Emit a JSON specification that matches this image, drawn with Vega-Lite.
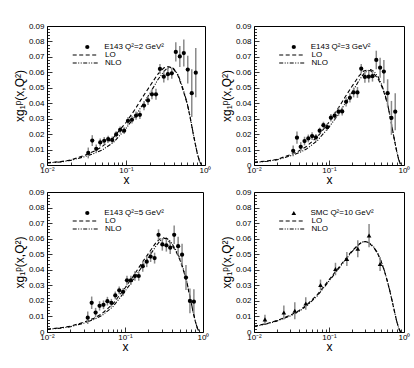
{
  "$schema": "https://vega.github.io/schema/vega-lite/v6.json",
  "background": "white",
  "padding": {"left": 12, "top": 21, "right": 0, "bottom": 0},
  "config": {
    "font": "Liberation Sans",
    "view": {"stroke": "black", "strokeWidth": 1},
    "axis": {"grid": false, "domain": false, "labelFontSize": 8, "labelColor": "black", "tickColor": "black", "titleColor": "black", "titleFontWeight": "normal", "labelFlush": false, "labelOverlap": false, "labelBound": false, "tickWidth": 0.8},
    "axisX": {"titleFontSize": 12, "titlePadding": -2, "labelPadding": 6},
    "axisY": {"titleFontSize": 12, "titlePadding": 2, "labelPadding": 8},
    "legend": {"orient": "none", "padding": 0, "offset": 0, "labelFontSize": 8, "labelColor": "black", "labelFont": "Liberation Sans", "title": null, "rowPadding": -3}
  },
  "datasets": {
    "c2": [
      {"x":0.01,"LO":0.0015,"NLO":0.0013},{"x":0.015,"LO":0.0022,"NLO":0.002},{"x":0.02,"LO":0.0032,"NLO":0.003},{"x":0.03,"LO":0.0063,"NLO":0.0054},{"x":0.04,"LO":0.009,"NLO":0.0076},{"x":0.05,"LO":0.012,"NLO":0.0097},{"x":0.07,"LO":0.018,"NLO":0.0148},{"x":0.1,"LO":0.0275,"NLO":0.0237},{"x":0.13,"LO":0.036,"NLO":0.0315},{"x":0.16,"LO":0.0435,"NLO":0.0385},{"x":0.2,"LO":0.051,"NLO":0.0463},{"x":0.25,"LO":0.0585,"NLO":0.0548},{"x":0.3,"LO":0.0628,"NLO":0.0605},{"x":0.33,"LO":0.0637,"NLO":0.0625},{"x":0.36,"LO":0.0634,"NLO":0.0632},{"x":0.4,"LO":0.062,"NLO":0.0625},{"x":0.45,"LO":0.0585,"NLO":0.059},{"x":0.5,"LO":0.052,"NLO":0.053},{"x":0.55,"LO":0.0455,"NLO":0.0462},{"x":0.6,"LO":0.039,"NLO":0.0393},{"x":0.65,"LO":0.0305,"NLO":0.0308},{"x":0.7,"LO":0.0218,"NLO":0.022},{"x":0.75,"LO":0.014,"NLO":0.0142},{"x":0.8,"LO":0.0073,"NLO":0.0074},{"x":0.85,"LO":0.0026,"NLO":0.0026},{"x":0.9,"LO":0,"NLO":0}
    ],
    "c3": [
      {"x":0.01,"LO":0.0018,"NLO":0.0016},{"x":0.015,"LO":0.0026,"NLO":0.0024},{"x":0.02,"LO":0.0036,"NLO":0.0033},{"x":0.03,"LO":0.0065,"NLO":0.0058},{"x":0.04,"LO":0.0092,"NLO":0.008},{"x":0.05,"LO":0.012,"NLO":0.0103},{"x":0.07,"LO":0.0182,"NLO":0.0158},{"x":0.1,"LO":0.0277,"NLO":0.0245},{"x":0.13,"LO":0.036,"NLO":0.032},{"x":0.16,"LO":0.0432,"NLO":0.039},{"x":0.2,"LO":0.0505,"NLO":0.0465},{"x":0.25,"LO":0.0575,"NLO":0.0545},{"x":0.29,"LO":0.0608,"NLO":0.059},{"x":0.32,"LO":0.0615,"NLO":0.0608},{"x":0.36,"LO":0.061,"NLO":0.0618},{"x":0.4,"LO":0.059,"NLO":0.0605},{"x":0.45,"LO":0.0558,"NLO":0.0572},{"x":0.5,"LO":0.0515,"NLO":0.0525},{"x":0.55,"LO":0.046,"NLO":0.0466},{"x":0.6,"LO":0.0398,"NLO":0.0402},{"x":0.65,"LO":0.0318,"NLO":0.032},{"x":0.7,"LO":0.0232,"NLO":0.0233},{"x":0.75,"LO":0.0155,"NLO":0.0156},{"x":0.8,"LO":0.0088,"NLO":0.0088},{"x":0.85,"LO":0.0035,"NLO":0.0035},{"x":0.9,"LO":0.0003,"NLO":0.0003}
    ],
    "c5": [
      {"x":0.01,"LO":0.0018,"NLO":0.0017},{"x":0.015,"LO":0.0027,"NLO":0.0025},{"x":0.02,"LO":0.0037,"NLO":0.0034},{"x":0.03,"LO":0.0064,"NLO":0.0058},{"x":0.04,"LO":0.0088,"NLO":0.0081},{"x":0.05,"LO":0.0116,"NLO":0.0104},{"x":0.07,"LO":0.018,"NLO":0.0163},{"x":0.1,"LO":0.0283,"NLO":0.0262},{"x":0.13,"LO":0.0365,"NLO":0.034},{"x":0.16,"LO":0.0435,"NLO":0.041},{"x":0.2,"LO":0.0505,"NLO":0.048},{"x":0.25,"LO":0.0575,"NLO":0.0553},{"x":0.28,"LO":0.0598,"NLO":0.0585},{"x":0.31,"LO":0.0605,"NLO":0.06},{"x":0.34,"LO":0.0598,"NLO":0.0603},{"x":0.37,"LO":0.058,"NLO":0.059},{"x":0.4,"LO":0.0558,"NLO":0.0568},{"x":0.45,"LO":0.0518,"NLO":0.0527},{"x":0.5,"LO":0.047,"NLO":0.0478},{"x":0.55,"LO":0.041,"NLO":0.0418},{"x":0.6,"LO":0.0348,"NLO":0.0355},{"x":0.65,"LO":0.027,"NLO":0.0276},{"x":0.7,"LO":0.0195,"NLO":0.0198},{"x":0.75,"LO":0.0125,"NLO":0.0127},{"x":0.8,"LO":0.0065,"NLO":0.0066},{"x":0.85,"LO":0.0022,"NLO":0.0022},{"x":0.9,"LO":0,"NLO":0}
    ],
    "c10": [
      {"x":0.01,"LO":0.0037,"NLO":0.0035},{"x":0.015,"LO":0.0055,"NLO":0.0053},{"x":0.02,"LO":0.0073,"NLO":0.007},{"x":0.03,"LO":0.0106,"NLO":0.0102},{"x":0.04,"LO":0.0138,"NLO":0.0133},{"x":0.05,"LO":0.0172,"NLO":0.0166},{"x":0.07,"LO":0.024,"NLO":0.0233},{"x":0.1,"LO":0.0335,"NLO":0.0327},{"x":0.13,"LO":0.0405,"NLO":0.0398},{"x":0.16,"LO":0.046,"NLO":0.0455},{"x":0.2,"LO":0.0518,"NLO":0.0513},{"x":0.25,"LO":0.0565,"NLO":0.0562},{"x":0.28,"LO":0.058,"NLO":0.0578},{"x":0.31,"LO":0.0582,"NLO":0.0582},{"x":0.34,"LO":0.0572,"NLO":0.0574},{"x":0.37,"LO":0.0557,"NLO":0.056},{"x":0.4,"LO":0.054,"NLO":0.0543},{"x":0.45,"LO":0.05,"NLO":0.0503},{"x":0.5,"LO":0.0448,"NLO":0.045},{"x":0.55,"LO":0.039,"NLO":0.0392},{"x":0.6,"LO":0.0325,"NLO":0.0327},{"x":0.65,"LO":0.026,"NLO":0.0262},{"x":0.7,"LO":0.0192,"NLO":0.0193},{"x":0.75,"LO":0.0127,"NLO":0.0128},{"x":0.8,"LO":0.0068,"NLO":0.0069},{"x":0.85,"LO":0.0024,"NLO":0.0024},{"x":0.9,"LO":0,"NLO":0}
    ],
    "p2": [
      {"x":0.0333,"y":0.0078,"err":0.0035},{"x":0.0374,"y":0.0158,"err":0.0035},{"x":0.042,"y":0.0105,"err":0.0028},{"x":0.0472,"y":0.0146,"err":0.0025},{"x":0.053,"y":0.0157,"err":0.0025},{"x":0.0595,"y":0.0168,"err":0.0022},{"x":0.0669,"y":0.0162,"err":0.0022},{"x":0.0751,"y":0.0198,"err":0.002},{"x":0.0843,"y":0.0228,"err":0.0022},{"x":0.0947,"y":0.0222,"err":0.0022},{"x":0.106,"y":0.0286,"err":0.0025},{"x":0.119,"y":0.0293,"err":0.0025},{"x":0.134,"y":0.032,"err":0.0027},{"x":0.15,"y":0.0325,"err":0.0027},{"x":0.169,"y":0.0385,"err":0.003},{"x":0.19,"y":0.0418,"err":0.003},{"x":0.213,"y":0.0458,"err":0.0032},{"x":0.2395,"y":0.0458,"err":0.0035},{"x":0.269,"y":0.0622,"err":0.0032},{"x":0.301,"y":0.0572,"err":0.0038},{"x":0.339,"y":0.0588,"err":0.004},{"x":0.38,"y":0.0594,"err":0.0035},{"x":0.427,"y":0.0732,"err":0.0062},{"x":0.48,"y":0.0703,"err":0.0068},{"x":0.539,"y":0.0725,"err":0.0088},{"x":0.605,"y":0.0618,"err":0.009},{"x":0.68,"y":0.0465,"err":0.0155},{"x":0.764,"y":0.0598,"err":0.016}
    ],
    "p3": [
      {"x":0.0333,"y":0.0092,"err":0.0035},{"x":0.0374,"y":0.0177,"err":0.004},{"x":0.042,"y":0.0118,"err":0.003},{"x":0.0472,"y":0.0155,"err":0.0028},{"x":0.053,"y":0.0172,"err":0.0025},{"x":0.0595,"y":0.0187,"err":0.0025},{"x":0.0669,"y":0.0179,"err":0.0022},{"x":0.0751,"y":0.0222,"err":0.002},{"x":0.0843,"y":0.0258,"err":0.0022},{"x":0.0947,"y":0.0245,"err":0.0022},{"x":0.106,"y":0.0306,"err":0.0025},{"x":0.119,"y":0.0319,"err":0.0025},{"x":0.134,"y":0.0345,"err":0.0027},{"x":0.15,"y":0.0347,"err":0.0027},{"x":0.169,"y":0.0409,"err":0.003},{"x":0.19,"y":0.0435,"err":0.003},{"x":0.213,"y":0.047,"err":0.0032},{"x":0.2395,"y":0.047,"err":0.0035},{"x":0.269,"y":0.0624,"err":0.003},{"x":0.301,"y":0.057,"err":0.0038},{"x":0.339,"y":0.0572,"err":0.0038},{"x":0.38,"y":0.0575,"err":0.0035},{"x":0.427,"y":0.068,"err":0.006},{"x":0.48,"y":0.063,"err":0.0065},{"x":0.539,"y":0.0605,"err":0.0075},{"x":0.605,"y":0.0465,"err":0.009},{"x":0.68,"y":0.0305,"err":0.011},{"x":0.764,"y":0.0345,"err":0.012}
    ],
    "p5": [
      {"x":0.0333,"y":0.0092,"err":0.004},{"x":0.0374,"y":0.0188,"err":0.004},{"x":0.042,"y":0.0125,"err":0.003},{"x":0.0472,"y":0.0168,"err":0.003},{"x":0.053,"y":0.0175,"err":0.0028},{"x":0.0595,"y":0.0198,"err":0.0028},{"x":0.0669,"y":0.0188,"err":0.0025},{"x":0.0751,"y":0.0235,"err":0.0025},{"x":0.0843,"y":0.0268,"err":0.0025},{"x":0.0947,"y":0.0258,"err":0.0025},{"x":0.106,"y":0.0332,"err":0.003},{"x":0.119,"y":0.0332,"err":0.003},{"x":0.134,"y":0.036,"err":0.003},{"x":0.15,"y":0.036,"err":0.003},{"x":0.169,"y":0.0423,"err":0.0035},{"x":0.19,"y":0.0452,"err":0.0035},{"x":0.213,"y":0.0485,"err":0.0035},{"x":0.2395,"y":0.0475,"err":0.0035},{"x":0.269,"y":0.0625,"err":0.0035},{"x":0.301,"y":0.0563,"err":0.004},{"x":0.339,"y":0.0557,"err":0.004},{"x":0.38,"y":0.0542,"err":0.004},{"x":0.427,"y":0.0625,"err":0.006},{"x":0.48,"y":0.0552,"err":0.006},{"x":0.539,"y":0.0497,"err":0.007},{"x":0.605,"y":0.035,"err":0.008},{"x":0.68,"y":0.02,"err":0.008},{"x":0.764,"y":0.0195,"err":0.008}
    ],
    "p10": [
      {"x":0.014,"y":0.0081,"err":0.003},{"x":0.025,"y":0.0125,"err":0.0045},{"x":0.035,"y":0.0137,"err":0.0055},{"x":0.049,"y":0.0183,"err":0.004},{"x":0.077,"y":0.0302,"err":0.0035},{"x":0.122,"y":0.0405,"err":0.004},{"x":0.173,"y":0.047,"err":0.0045},{"x":0.242,"y":0.0535,"err":0.0055},{"x":0.342,"y":0.062,"err":0.0075},{"x":0.48,"y":0.0437,"err":0.0045}
    ]
  },
  "spacing": 1,
  "resolve": {"scale": {"shape": "independent", "strokeDash": "independent"}},
  "vconcat": [
    {
      "spacing": 7,
      "resolve": {"scale": {"shape": "independent", "strokeDash": "independent"}},
      "hconcat": [
        {
          "width": 158, "height": 139,
          "encoding": {
            "x": {"field": "x", "type": "quantitative", "scale": {"type": "log", "domain": [0.01, 1]},
              "axis": {"title": "x", "values": [0.01,0.02,0.03,0.04,0.05,0.06,0.07,0.08,0.09,0.1,0.2,0.3,0.4,0.5,0.6,0.7,0.8,0.9,1],
                "labelExpr": "datum.value == 0.01 ? '10⁻²' : datum.value == 0.1 ? '10⁻¹' : datum.value == 1 ? '10⁰' : ''",
                "tickSize": {"condition": {"test": "datum.value == 0.01 || datum.value == 0.1 || datum.value == 1", "value": -5}, "value": -3}}},
            "y": {"field": "y", "type": "quantitative", "scale": {"domain": [0, 0.09], "nice": false},
              "axis": {"title": "xg₁ᵖ(x,Q²)", "values": [0,0.002,0.004,0.006,0.008,0.01,0.012,0.014,0.016,0.018,0.02,0.022,0.024,0.026,0.028,0.03,0.032,0.034,0.036,0.038,0.04,0.042,0.044,0.046,0.048,0.05,0.052,0.054,0.056,0.058,0.06,0.062,0.064,0.066,0.068,0.07,0.072,0.074,0.076,0.078,0.08,0.082,0.084,0.086,0.088,0.09],
                "labelExpr": "abs(datum.value*100 - round(datum.value*100)) < 0.001 ? (datum.value == 0 ? '0' : format(datum.value, '.2f')) : ''",
                "tickSize": {"condition": {"test": "abs(datum.value*100 - round(datum.value*100)) < 0.001", "value": -5}, "value": -2.5}}}
          },
          "layer": [
            {"data": {"name": "c2"}, "transform": [{"fold": ["LO", "NLO"], "as": ["s", "y"]}],
             "mark": {"type": "line", "color": "black", "strokeWidth": 1.1},
             "encoding": {"strokeDash": {"field": "s", "type": "nominal", "scale": {"domain": ["LO", "NLO"], "range": [[4, 2.5], [4, 1.5, 1, 1.5, 1, 1.5]]},
               "legend": {"legendX": 34.2, "legendY": 25, "symbolType": "M-6.25,0H6.25", "symbolSize": 16, "symbolStrokeWidth": 1.1, "symbolStrokeColor": "black", "labelOffset": 15.8}}}},
            {"data": {"name": "p2"}, "mark": {"type": "errorbar", "color": "#8a8a8a", "thickness": 1.5}, "encoding": {"yError": {"field": "err"}}},
            {"data": {"name": "p2"}, "mark": {"type": "point", "filled": true, "color": "black", "size": 18, "opacity": 1},
             "encoding": {"shape": {"datum": "E143 Q²=2 GeV²", "scale": {"range": ["circle"]},
               "legend": {"legendX": 36.3, "legendY": 17, "symbolSize": 18, "symbolFillColor": "black", "symbolStrokeColor": "black", "labelOffset": 12.9}}}}
          ]
        },
        {
          "width": 150, "height": 139,
          "encoding": {
            "x": {"field": "x", "type": "quantitative", "scale": {"type": "log", "domain": [0.01, 1]},
              "axis": {"title": "x", "values": [0.01,0.02,0.03,0.04,0.05,0.06,0.07,0.08,0.09,0.1,0.2,0.3,0.4,0.5,0.6,0.7,0.8,0.9,1],
                "labelExpr": "datum.value == 0.01 ? '10⁻²' : datum.value == 0.1 ? '10⁻¹' : datum.value == 1 ? '10⁰' : ''",
                "tickSize": {"condition": {"test": "datum.value == 0.01 || datum.value == 0.1 || datum.value == 1", "value": -5}, "value": -3}}},
            "y": {"field": "y", "type": "quantitative", "scale": {"domain": [0, 0.09], "nice": false},
              "axis": {"title": "xg₁ᵖ(x,Q²)", "values": [0,0.002,0.004,0.006,0.008,0.01,0.012,0.014,0.016,0.018,0.02,0.022,0.024,0.026,0.028,0.03,0.032,0.034,0.036,0.038,0.04,0.042,0.044,0.046,0.048,0.05,0.052,0.054,0.056,0.058,0.06,0.062,0.064,0.066,0.068,0.07,0.072,0.074,0.076,0.078,0.08,0.082,0.084,0.086,0.088,0.09],
                "labelExpr": "abs(datum.value*100 - round(datum.value*100)) < 0.001 ? (datum.value == 0 ? '0' : format(datum.value, '.2f')) : ''",
                "tickSize": {"condition": {"test": "abs(datum.value*100 - round(datum.value*100)) < 0.001", "value": -5}, "value": -2.5}}}
          },
          "layer": [
            {"data": {"name": "c3"}, "transform": [{"fold": ["LO", "NLO"], "as": ["s", "y"]}],
             "mark": {"type": "line", "color": "black", "strokeWidth": 1.1},
             "encoding": {"strokeDash": {"field": "s", "type": "nominal", "scale": {"domain": ["LO", "NLO"], "range": [[4, 2.5], [4, 1.5, 1, 1.5, 1, 1.5]]},
               "legend": {"legendX": 33.7, "legendY": 25, "symbolType": "M-6.25,0H6.25", "symbolSize": 16, "symbolStrokeWidth": 1.1, "symbolStrokeColor": "black", "labelOffset": 15.8}}}},
            {"data": {"name": "p3"}, "mark": {"type": "errorbar", "color": "#8a8a8a", "thickness": 1.5}, "encoding": {"yError": {"field": "err"}}},
            {"data": {"name": "p3"}, "mark": {"type": "point", "filled": true, "color": "black", "size": 18, "opacity": 1},
             "encoding": {"shape": {"datum": "E143 Q²=3 GeV²", "scale": {"range": ["circle"]},
               "legend": {"legendX": 35.8, "legendY": 17, "symbolSize": 18, "symbolFillColor": "black", "symbolStrokeColor": "black", "labelOffset": 12.9}}}}
          ]
        }
      ]
    },
    {
      "spacing": 9,
      "resolve": {"scale": {"shape": "independent", "strokeDash": "independent"}},
      "hconcat": [
        {
          "width": 156, "height": 140,
          "encoding": {
            "x": {"field": "x", "type": "quantitative", "scale": {"type": "log", "domain": [0.01, 1]},
              "axis": {"title": "x", "values": [0.01,0.02,0.03,0.04,0.05,0.06,0.07,0.08,0.09,0.1,0.2,0.3,0.4,0.5,0.6,0.7,0.8,0.9,1],
                "labelExpr": "datum.value == 0.01 ? '10⁻²' : datum.value == 0.1 ? '10⁻¹' : datum.value == 1 ? '10⁰' : ''",
                "tickSize": {"condition": {"test": "datum.value == 0.01 || datum.value == 0.1 || datum.value == 1", "value": -5}, "value": -3}}},
            "y": {"field": "y", "type": "quantitative", "scale": {"domain": [0, 0.09], "nice": false},
              "axis": {"title": "xg₁ᵖ(x,Q²)", "values": [0,0.002,0.004,0.006,0.008,0.01,0.012,0.014,0.016,0.018,0.02,0.022,0.024,0.026,0.028,0.03,0.032,0.034,0.036,0.038,0.04,0.042,0.044,0.046,0.048,0.05,0.052,0.054,0.056,0.058,0.06,0.062,0.064,0.066,0.068,0.07,0.072,0.074,0.076,0.078,0.08,0.082,0.084,0.086,0.088,0.09],
                "labelExpr": "abs(datum.value*100 - round(datum.value*100)) < 0.001 ? (datum.value == 0 ? '0' : format(datum.value, '.2f')) : ''",
                "tickSize": {"condition": {"test": "abs(datum.value*100 - round(datum.value*100)) < 0.001", "value": -5}, "value": -2.5}}}
          },
          "layer": [
            {"data": {"name": "c5"}, "transform": [{"fold": ["LO", "NLO"], "as": ["s", "y"]}],
             "mark": {"type": "line", "color": "black", "strokeWidth": 1.1},
             "encoding": {"strokeDash": {"field": "s", "type": "nominal", "scale": {"domain": ["LO", "NLO"], "range": [[4, 2.5], [4, 1.5, 1, 1.5, 1, 1.5]]},
               "legend": {"legendX": 34.2, "legendY": 25, "symbolType": "M-6.25,0H6.25", "symbolSize": 16, "symbolStrokeWidth": 1.1, "symbolStrokeColor": "black", "labelOffset": 15.8}}}},
            {"data": {"name": "p5"}, "mark": {"type": "errorbar", "color": "#8a8a8a", "thickness": 1.5}, "encoding": {"yError": {"field": "err"}}},
            {"data": {"name": "p5"}, "mark": {"type": "point", "filled": true, "color": "black", "size": 18, "opacity": 1},
             "encoding": {"shape": {"datum": "E143 Q²=5 GeV²", "scale": {"range": ["circle"]},
               "legend": {"legendX": 36.3, "legendY": 17, "symbolSize": 18, "symbolFillColor": "black", "symbolStrokeColor": "black", "labelOffset": 12.9}}}}
          ]
        },
        {
          "width": 150, "height": 140,
          "encoding": {
            "x": {"field": "x", "type": "quantitative", "scale": {"type": "log", "domain": [0.01, 1]},
              "axis": {"title": "x", "values": [0.01,0.02,0.03,0.04,0.05,0.06,0.07,0.08,0.09,0.1,0.2,0.3,0.4,0.5,0.6,0.7,0.8,0.9,1],
                "labelExpr": "datum.value == 0.01 ? '10⁻²' : datum.value == 0.1 ? '10⁻¹' : datum.value == 1 ? '10⁰' : ''",
                "tickSize": {"condition": {"test": "datum.value == 0.01 || datum.value == 0.1 || datum.value == 1", "value": -5}, "value": -3}}},
            "y": {"field": "y", "type": "quantitative", "scale": {"domain": [0, 0.09], "nice": false},
              "axis": {"title": "xg₁ᵖ(x,Q²)", "values": [0,0.002,0.004,0.006,0.008,0.01,0.012,0.014,0.016,0.018,0.02,0.022,0.024,0.026,0.028,0.03,0.032,0.034,0.036,0.038,0.04,0.042,0.044,0.046,0.048,0.05,0.052,0.054,0.056,0.058,0.06,0.062,0.064,0.066,0.068,0.07,0.072,0.074,0.076,0.078,0.08,0.082,0.084,0.086,0.088,0.09],
                "labelExpr": "abs(datum.value*100 - round(datum.value*100)) < 0.001 ? (datum.value == 0 ? '0' : format(datum.value, '.2f')) : ''",
                "tickSize": {"condition": {"test": "abs(datum.value*100 - round(datum.value*100)) < 0.001", "value": -5}, "value": -2.5}}}
          },
          "layer": [
            {"data": {"name": "c10"}, "transform": [{"fold": ["LO", "NLO"], "as": ["s", "y"]}],
             "mark": {"type": "line", "color": "black", "strokeWidth": 1.1},
             "encoding": {"strokeDash": {"field": "s", "type": "nominal", "scale": {"domain": ["LO", "NLO"], "range": [[4, 2.5], [4, 1.5, 1, 1.5, 1, 1.5]]},
               "legend": {"legendX": 33.7, "legendY": 25, "symbolType": "M-6.25,0H6.25", "symbolSize": 16, "symbolStrokeWidth": 1.1, "symbolStrokeColor": "black", "labelOffset": 15.8}}}},
            {"data": {"name": "p10"}, "mark": {"type": "errorbar", "color": "#8a8a8a", "thickness": 1.5}, "encoding": {"yError": {"field": "err"}}},
            {"data": {"name": "p10"}, "mark": {"type": "point", "filled": true, "color": "black", "size": 22, "opacity": 1},
             "encoding": {"shape": {"datum": "SMC Q²=10 GeV²", "scale": {"range": ["triangle-up"]},
               "legend": {"legendX": 35.8, "legendY": 17, "symbolSize": 22, "symbolFillColor": "black", "symbolStrokeColor": "black", "labelOffset": 12.6}}}}
          ]
        }
      ]
    }
  ]
}
